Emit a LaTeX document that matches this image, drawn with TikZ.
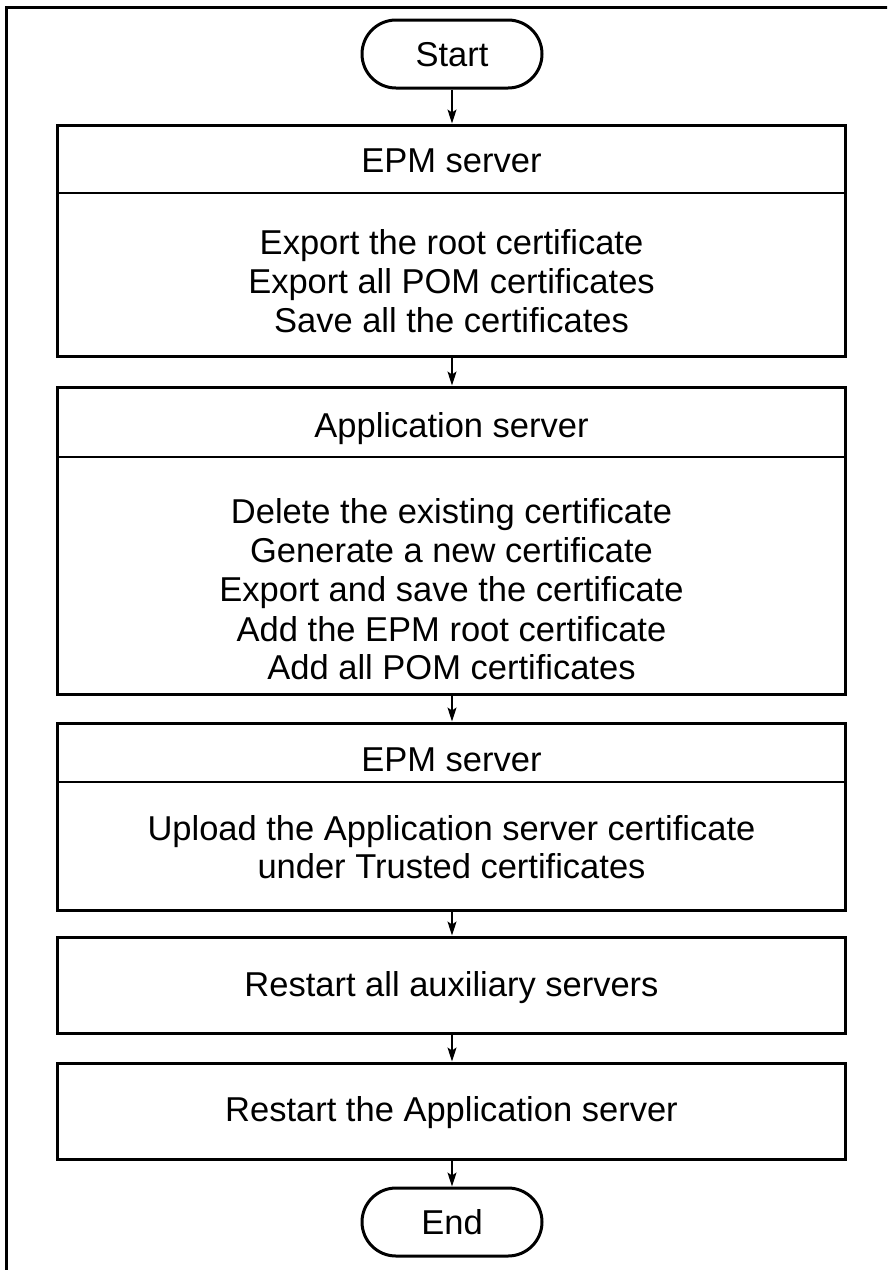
\documentclass[tikz,border=0pt]{standalone}
\usepackage{fontspec}
\setmainfont{Liberation Sans}
\usetikzlibrary{arrows.meta,shapes.misc}
\begin{document}
\begin{tikzpicture}[x=1pt,y=-1pt,
  every node/.style={inner sep=0pt},
  frame/.style={line width=3pt},
  box/.style={draw, line width=3pt, rectangle, minimum width=788pt},
  term/.style={draw, line width=3pt, rounded rectangle, minimum width=180pt, minimum height=68pt},
  divider/.style={line width=2pt},
  txt/.style={anchor=base, font=\fontsize{34.5}{39}\selectfont},
  arr/.style={line width=1.5pt, -{Stealth[length=14pt,width=9pt,inset=3pt]}}
]
\useasboundingbox (0,0) rectangle (887,1270);
\clip (0,0) rectangle (887,1270);

% outer page frame
\draw[frame] (6.5,1290) -- (6.5,7.5) -- (900,7.5);

% terminals
\node[term] (start) at (452,54) {};
\node[txt] (starttxt) at (452,66) {Start};
\node[term] (end) at (452,1222) {};
\node[txt] (endtxt) at (452,1234) {End};

% process boxes
\node[box, minimum height=231pt] (b1) at (451.5,240.5) {};
\node[box, minimum height=307pt] (b2) at (451.5,540.5) {};
\node[box, minimum height=187pt] (b3) at (451.5,816.5) {};
\node[box, minimum height=96pt]  (b4) at (451.5,985) {};
\node[box, minimum height=96pt]  (b5) at (451.5,1111) {};

% header dividers
\draw[divider] (57.5,193) -- (845.5,193);
\draw[divider] (57.5,457) -- (845.5,457);
\draw[divider] (57.5,782) -- (845.5,782);

% box 1
\node[txt] (b1h) at (451.5,172) {EPM server};
\node[txt] (b1a) at (451.5,254) {Export the root certificate};
\node[txt] (b1b) at (451.5,293) {Export all POM certificates};
\node[txt] (b1c) at (451.5,332) {Save all the certificates};

% box 2
\node[txt] (b2h) at (451.5,437) {Application server};
\node[txt] (b2a) at (451.5,523) {Delete the existing certificate};
\node[txt] (b2b) at (451.5,562) {Generate a new certificate};
\node[txt] (b2c) at (451.5,601) {Export and save the certificate};
\node[txt] (b2d) at (451.5,641) {Add the EPM root certificate};
\node[txt] (b2e) at (451.5,679) {Add all POM certificates};

% box 3
\node[txt] (b3h) at (451.5,771) {EPM server};
\node[txt] (b3a) at (451.5,840) {Upload the Application server certificate};
\node[txt] (b3b) at (451.5,878) {under Trusted certificates};

% boxes 4 and 5
\node[txt] (b4t) at (451.5,996) {Restart all auxiliary servers};
\node[txt] (b5t) at (451.5,1121) {Restart the Application server};

% connectors
\draw[arr] (start.south) -- (start.south |- b1.north);
\draw[arr] (b1.south -| start) -- (b2.north -| start);
\draw[arr] (b2.south -| start) -- (b3.north -| start);
\draw[arr] (b3.south -| start) -- (b4.north -| start);
\draw[arr] (b4.south -| start) -- (b5.north -| start);
\draw[arr] (b5.south -| start) -- (end.north);
\end{tikzpicture}
\end{document}
